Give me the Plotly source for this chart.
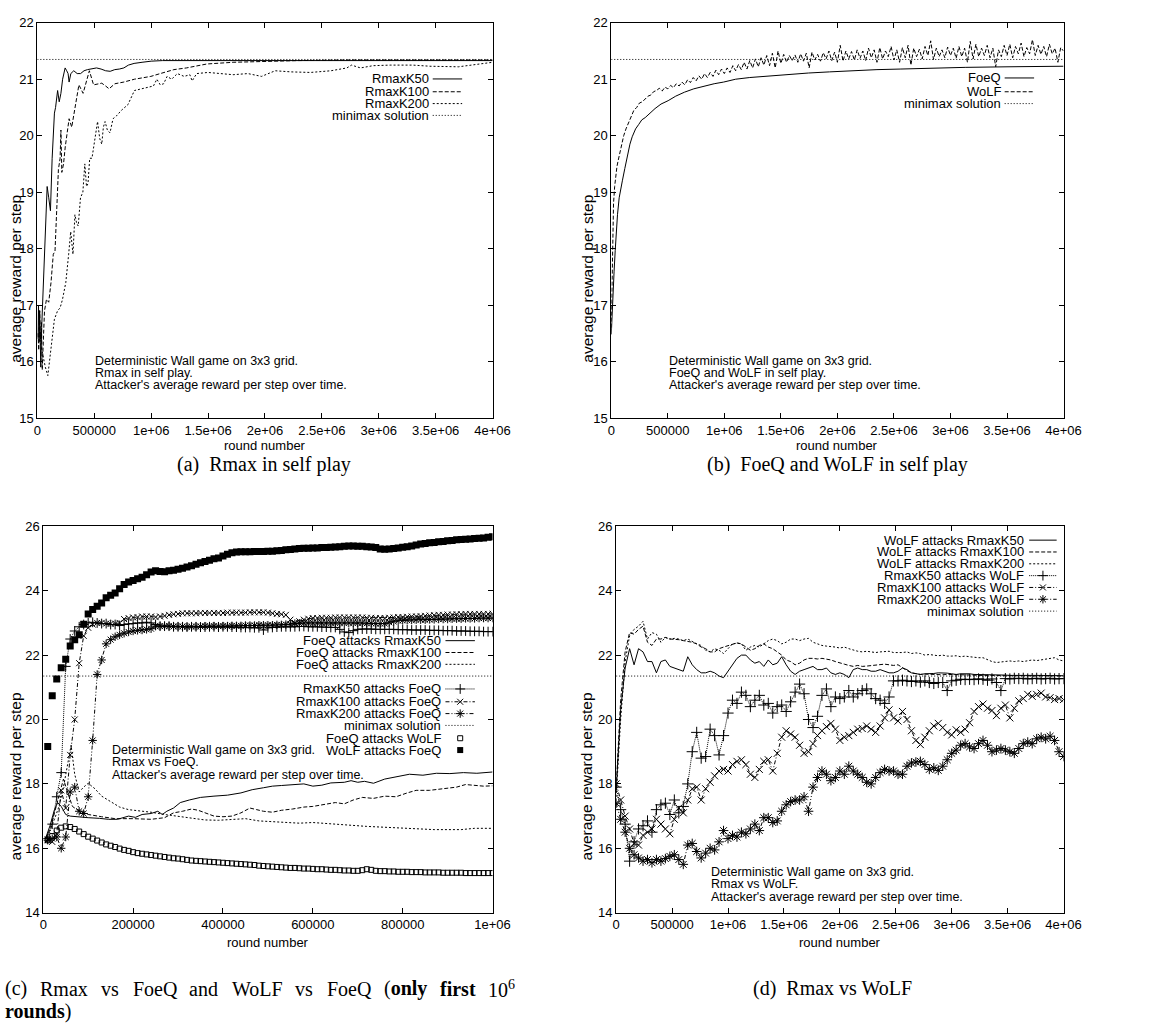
import plotly.graph_objects as go

W, H = 1161, 1034
SANS = "Liberation Sans, Arial, Helvetica, sans-serif"
SERIF = "Liberation Serif, Times New Roman, serif"

MINIMAX = 21.35

# ---------------- (a) Rmax in self play (x in thousands of rounds) ----------------
A_K50_X = [5, 10, 15, 20, 25, 30, 38, 45, 55, 65, 75, 86, 100, 115, 130, 150, 160, 178, 192, 207,
           222, 244, 258, 270, 279, 294, 320, 350, 380, 410, 440, 480, 520, 560, 600, 640, 680, 720, 760, 800,
           850, 920, 1000, 1100, 1250, 1500, 2000, 2500, 3000, 3500, 4000]
A_K50_Y = [16.4, 17.0, 16.35, 16.9, 16.4, 15.9, 16.6, 17.0, 17.6, 18.2, 18.7, 19.1, 18.9, 18.67, 19.6, 20.4, 20.5, 20.8, 20.6, 20.75,
           21.0, 21.2, 21.15, 21.1, 20.95, 21.1, 21.15, 21.1, 21.1, 21.15, 21.17, 21.18, 21.2, 21.18, 21.15, 21.14, 21.17, 21.18, 21.2, 21.25,
           21.28, 21.3, 21.32, 21.33, 21.33, 21.33, 21.34, 21.33, 21.34, 21.33, 21.33]

A_K100_X = [5, 12, 20, 28, 36, 43, 55, 63, 80, 100, 120, 140, 155, 170, 185, 200, 207, 215, 230, 245,
            262, 279, 302, 330, 365, 402, 430, 457, 494, 530, 566, 600, 630, 681, 760, 853, 997, 1080, 1200, 1310,
            1490, 1720, 2000, 2290, 2700, 3200, 3600, 4000]
A_K100_Y = [16.5, 16.2, 16.9, 16.4, 16.7, 15.85, 16.5, 16.9, 17.1, 17.05, 17.4, 17.9, 17.95, 18.6, 19.4, 19.6, 20.1, 19.35, 19.5, 19.8,
            20.1, 20.3, 20.15, 20.5, 20.9, 20.75, 20.95, 21.15, 20.9, 20.92, 20.93, 20.88, 20.83, 20.92, 20.95, 21.0, 21.05, 21.1, 21.17, 21.2,
            21.27, 21.3, 21.32, 21.33, 21.34, 21.34, 21.34, 21.34]

A_K200_X = [15, 30, 50, 70, 92, 106, 130, 150, 178, 200, 221, 250, 275, 293, 313, 330, 345, 359, 379, 400,
            417, 432, 445, 460, 480, 505, 529, 548, 566, 580, 595, 615, 638, 665, 695, 739, 796, 853, 900, 969,
            1020, 1050, 1080, 1110, 1140, 1180, 1230, 1290, 1340, 1360, 1400, 1500, 1600, 1720, 1850, 1970, 2090, 2230, 2400, 2580,
            2720, 2760, 2840, 2950, 3100, 3300, 3450, 3700, 3850, 4000]
A_K200_Y = [16.6, 16.3, 16.1, 15.9, 15.75, 16.0, 16.4, 16.75, 16.9, 16.95, 17.1, 17.4, 17.9, 18.3, 17.9, 18.6, 18.45, 18.4, 18.9, 19.0,
            19.5, 19.1, 19.15, 19.6, 19.6, 19.9, 20.25, 19.95, 19.85, 20.15, 20.25, 20.1, 20.05, 20.3, 20.35, 20.45, 20.55, 20.8, 20.82, 20.85,
            20.88, 21.0, 20.9, 20.92, 21.05, 21.0, 21.1, 21.05, 21.08, 20.97, 21.1, 21.12, 21.1, 21.08, 21.1, 21.05, 21.15, 21.13, 21.12, 21.15,
            21.2, 21.25, 21.2, 21.24, 21.25, 21.25, 21.23, 21.22, 21.26, 21.3]

# ---------------- (b) FoeQ and WoLF in self play ----------------
B_FOEQ_X = [0, 8, 17, 25, 35, 45, 55, 70, 85, 98, 120, 142, 165, 185, 215, 243, 270, 300, 340, 387,
            440, 503, 570, 647, 730, 821, 910, 994, 1100, 1225, 1340, 1457, 1600, 1745, 1930, 2120, 2350, 2555, 2850, 3130,
            3500, 4000]
B_FOEQ_Y = [16.48, 16.9, 17.2, 17.6, 17.97, 18.3, 18.6, 18.9, 19.1, 19.2, 19.42, 19.66, 19.85, 19.98, 20.12, 20.2, 20.28, 20.32, 20.4, 20.48,
            20.56, 20.62, 20.7, 20.77, 20.83, 20.88, 20.92, 20.95, 21.0, 21.03, 21.05, 21.07, 21.09, 21.11, 21.13, 21.15, 21.17, 21.18, 21.2, 21.21,
            21.22, 21.23]

B_WOLF_X = [0, 5, 10, 15, 20, 30, 40, 50, 60, 75, 90, 110, 130, 150, 175, 200, 225, 250, 275, 300, 325, 350, 375] + \
           list(range(400, 4001, 25))
B_WOLF_Y = [16.6, 17.1, 17.8, 18.4, 18.8, 19.1, 19.3, 19.45, 19.55, 19.7, 19.85, 20.0, 20.12, 20.22, 20.33, 20.45, 20.5, 20.58, 20.6, 20.65,
            20.7, 20.72, 20.78,
            20.80, 20.84, 20.79, 20.86, 20.83, 20.89, 20.85, 20.92, 20.88, 20.95,
            20.90, 20.99, 20.94, 21.03, 20.97, 21.06, 21.00, 21.10, 21.03, 21.12,
            21.05, 21.16, 21.08, 21.18, 21.10, 21.20, 21.12, 21.24, 21.15, 21.26,
            21.17, 21.30, 21.18, 21.33, 21.20, 21.36, 21.22, 21.38, 21.25, 21.42,
            21.24, 21.46, 21.20, 21.50, 21.28, 21.44, 21.30, 21.42, 21.33, 21.43,
            21.30, 21.45, 21.32, 21.46, 21.20, 21.48, 21.34, 21.44, 21.32, 21.47,
            21.36, 21.50, 21.33, 21.48, 21.30, 21.60, 21.32, 21.50, 21.36, 21.49,
            21.34, 21.52, 21.37, 21.50, 21.33, 21.55, 21.38, 21.52, 21.30, 21.56,
            21.36, 21.50, 21.40, 21.58, 21.34, 21.52, 21.30, 21.56, 21.38, 21.60,
            21.25, 21.55, 21.40, 21.53, 21.36, 21.58, 21.42, 21.68, 21.35, 21.55,
            21.40, 21.52, 21.38, 21.57, 21.42, 21.55, 21.37, 21.58, 21.40, 21.55,
            21.30, 21.67, 21.36, 21.62, 21.40, 21.55, 21.42, 21.60, 21.38, 21.55,
            21.22, 21.52, 21.40, 21.60, 21.42, 21.62, 21.38, 21.58, 21.45, 21.64,
            21.40, 21.56, 21.45, 21.70, 21.42, 21.60, 21.44, 21.58, 21.40, 21.62,
            21.45, 21.55, 21.30, 21.56, 21.50]

# ---------------- (c) Rmax vs FoeQ and WoLF vs FoeQ ----------------
C_FOEQ_K50_X = [5, 15, 25, 32, 40, 50, 60, 80, 100, 125, 145, 165, 190, 205, 220, 240, 255, 265, 275, 290,
                305, 325, 350, 380, 410, 440, 465, 490, 510, 530, 555, 580, 600, 620, 640, 670, 685, 700, 715, 735,
                760, 790, 815, 845, 875, 905, 935, 965, 1000]
C_FOEQ_K50_Y = [16.3, 16.7, 17.2, 17.42, 17.3, 17.05, 17.0, 16.97, 16.95, 16.93, 16.9, 16.9, 17.0, 16.96, 17.05, 17.08, 17.15, 17.05, 17.15, 17.25,
                17.42, 17.5, 17.58, 17.62, 17.65, 17.72, 17.82, 17.88, 17.93, 17.95, 17.98, 18.0, 17.93, 17.96, 18.03, 18.05, 18.1, 18.05, 18.08, 18.02,
                18.15, 18.22, 18.3, 18.27, 18.33, 18.32, 18.35, 18.33, 18.37]

C_FOEQ_K100_X = [5, 15, 25, 35, 45, 55, 65, 80, 100, 130, 160, 200, 240, 270, 290, 310, 330, 345, 360, 380,
                 400, 420, 440, 460, 475, 490, 510, 530, 555, 580, 600, 625, 650, 670, 690, 710, 735, 760, 785, 810,
                 830, 860, 890, 920, 940, 960, 980, 1000]
C_FOEQ_K100_Y = [16.3, 16.6, 17.1, 17.6, 18.15, 17.7, 17.3, 17.15, 17.05, 16.98, 16.92, 16.92, 16.9, 16.95, 17.1, 17.15, 17.22, 17.18, 17.1, 17.0,
                 16.98, 17.0, 17.1, 17.25, 17.2, 17.15, 17.12, 17.18, 17.22, 17.28, 17.3, 17.35, 17.42, 17.38, 17.5, 17.58, 17.55, 17.62, 17.6, 17.72,
                 17.8, 17.8, 17.85, 17.9, 17.98, 17.95, 17.93, 17.94]

C_FOEQ_K200_X = [5, 15, 25, 35, 45, 55, 62, 70, 80, 90, 100, 115, 130, 150, 170, 190, 210, 240, 270, 300,
                 330, 360, 390, 420, 450, 480, 510, 540, 570, 600, 640, 680, 720, 760, 800, 840, 870, 900, 930, 960,
                 1000]
C_FOEQ_K200_Y = [16.3, 16.55, 16.9, 17.3, 17.9, 18.6, 19.2, 18.3, 17.75, 17.9, 18.02, 17.85, 17.62, 17.45, 17.28, 17.2, 17.17, 17.12, 17.05, 17.0,
                 16.95, 16.88, 16.87, 16.9, 16.92, 16.85, 16.82, 16.8, 16.78, 16.8, 16.75, 16.72, 16.68, 16.66, 16.63, 16.6, 16.58, 16.57, 16.58, 16.62,
                 16.62]

# point series logged every 10000 rounds
C_ROUNDS = list(range(10000, 1000001, 10000))
C_K50_ATT = [16.3, 16.75, 17.6, 18.35, 21.65, 22.5, 22.75, 22.88, 22.95, 23.0,
             23.02, 23.0, 22.98, 22.98, 22.95, 22.95, 22.92, 22.95, 22.97, 22.98,
             23.0, 23.0, 23.02, 23.0, 22.95, 22.9, 22.9, 22.9, 22.88, 22.88,
             22.88, 22.87, 22.88, 22.88, 22.87, 22.87, 22.88, 22.88, 22.87, 22.88,
             22.88, 22.87, 22.87, 22.86, 22.86, 22.86, 22.85, 22.85, 22.78, 22.85,
             22.86, 22.87, 22.88, 22.88, 22.88, 22.88, 22.89, 22.89, 22.88, 22.88,
             22.88, 22.87, 22.87, 22.86, 22.86, 22.8, 22.72, 22.7, 22.76, 22.8,
             22.81, 22.81, 22.81, 22.8, 22.8, 22.8, 22.8, 22.8, 22.79, 22.79,
             22.79, 22.78, 22.78, 22.78, 22.78, 22.77, 22.77, 22.77, 22.76, 22.76,
             22.76, 22.75, 22.75, 22.75, 22.74, 22.74, 22.74, 22.73, 22.73, 22.73]
C_K100_ATT = [16.28, 16.2, 16.45, 17.8, 17.25, 18.9, 20.0, 21.75, 22.6, 22.85,
              22.95, 23.0, 23.0, 22.98, 22.97, 22.98, 23.0, 23.12, 23.15, 23.17,
              23.18, 23.2, 23.2, 23.2, 23.18, 23.2, 23.22, 23.25, 23.27, 23.28,
              23.3, 23.3, 23.3, 23.3, 23.31, 23.31, 23.31, 23.31, 23.31, 23.31,
              23.32, 23.32, 23.32, 23.32, 23.32, 23.33, 23.33, 23.33, 23.33, 23.32,
              23.3, 23.28, 23.27, 23.25, 23.1, 23.0, 23.05, 23.1, 23.13, 23.15,
              23.15, 23.16, 23.16, 23.16, 23.17, 23.17, 23.17, 23.17, 23.17, 23.17,
              23.17, 23.16, 23.16, 23.15, 23.15, 23.15, 23.16, 23.17, 23.18, 23.18,
              23.19, 23.2, 23.2, 23.21, 23.22, 23.23, 23.24, 23.25, 23.25, 23.26,
              23.26, 23.27, 23.27, 23.28, 23.28, 23.28, 23.28, 23.28, 23.28, 23.28]
C_K200_ATT = [16.25, 16.3, 16.35, 16.0, 16.35, 17.75, 17.9, 17.15, 17.08, 17.6,
              19.35, 21.4, 21.85, 22.35, 22.48, 22.57, 22.63, 22.68, 22.72, 22.75,
              22.77, 22.78, 22.8, 22.82, 22.9, 22.9, 22.9, 22.9, 22.89, 22.89,
              22.89, 22.88, 22.88, 22.89, 22.89, 22.9, 22.9, 22.9, 22.9, 22.9,
              22.9, 22.91, 22.91, 22.91, 22.92, 22.92, 22.92, 22.93, 22.93, 22.93,
              22.93, 22.94, 22.94, 22.95, 22.96, 22.98, 22.99, 23.0, 23.0, 23.0,
              23.0, 23.0, 23.0, 23.0, 23.0, 23.0, 23.0, 23.0, 23.0, 23.0,
              23.0, 22.99, 22.99, 22.98, 22.98, 22.98, 23.02, 23.05, 23.07, 23.08,
              23.09, 23.09, 23.1, 23.1, 23.1, 23.11, 23.11, 23.12, 23.12, 23.12,
              23.13, 23.13, 23.13, 23.14, 23.14, 23.14, 23.15, 23.15, 23.15, 23.15]
C_FOEQ_ATT_WOLF = [16.25, 16.38, 16.55, 16.64, 16.68, 16.66, 16.6, 16.52, 16.44, 16.36,
                   16.3, 16.24, 16.18, 16.12, 16.08, 16.04, 15.99, 15.95, 15.92, 15.88,
                   15.85, 15.83, 15.81, 15.79, 15.77, 15.75, 15.73, 15.71, 15.69, 15.68,
                   15.66, 15.64, 15.62, 15.61, 15.6, 15.59, 15.58, 15.57, 15.56, 15.55,
                   15.54, 15.53, 15.52, 15.51, 15.5, 15.49, 15.48, 15.46, 15.45, 15.44,
                   15.43, 15.42, 15.41, 15.4, 15.39, 15.39, 15.38, 15.37, 15.37, 15.36,
                   15.35, 15.35, 15.34, 15.33, 15.33, 15.32, 15.31, 15.31, 15.3, 15.3,
                   15.32, 15.35, 15.33, 15.3, 15.29, 15.29, 15.28, 15.28, 15.27, 15.27,
                   15.27, 15.26, 15.26, 15.26, 15.25, 15.25, 15.25, 15.25, 15.24, 15.24,
                   15.24, 15.24, 15.24, 15.23, 15.23, 15.23, 15.23, 15.23, 15.23, 15.23]
C_WOLF_ATT_FOEQ = [19.16, 20.74, 21.26, 21.61, 21.87, 22.28, 22.48, 22.63, 22.96, 23.28,
                   23.42, 23.52, 23.62, 23.78, 23.86, 23.93, 24.06, 24.19, 24.27, 24.32,
                   24.37, 24.42, 24.5, 24.58, 24.62, 24.6, 24.59, 24.62, 24.64, 24.67,
                   24.7, 24.74, 24.78, 24.82, 24.87, 24.91, 24.95, 24.99, 25.02, 25.08,
                   25.13, 25.18, 25.2, 25.21, 25.21, 25.21, 25.22, 25.22, 25.22, 25.23,
                   25.23, 25.24, 25.25, 25.27, 25.28, 25.3, 25.31, 25.32, 25.32, 25.33,
                   25.33, 25.34, 25.34, 25.35, 25.36, 25.37, 25.38, 25.39, 25.39, 25.38,
                   25.38, 25.37, 25.36, 25.34, 25.3, 25.29, 25.3, 25.31, 25.33, 25.35,
                   25.37, 25.39, 25.42, 25.45, 25.47, 25.49, 25.5, 25.52, 25.53, 25.55,
                   25.56, 25.58, 25.59, 25.6, 25.61, 25.62, 25.63, 25.64, 25.66, 25.68]

# ---------------- (d) Rmax vs WoLF, logged every 40000 rounds ----------------
D_ROUNDS = list(range(0, 4000001, 40000))
D_WOLF_K50 = [17.8, 20.3, 21.6, 22.2, 21.7, 22.2, 22.1, 21.8, 21.8, 21.45,
              21.8, 21.85, 21.65, 21.6, 21.55, 21.5, 21.95, 21.7, 21.55, 21.45,
              21.45, 21.5, 21.45, 21.35, 21.3, 21.5, 21.7, 21.9, 22.0, 22.0,
              21.85, 21.75, 21.8, 21.65, 21.85, 21.7, 21.75, 21.95, 21.7, 21.5,
              21.4, 21.5, 21.55, 21.6, 21.65, 21.55, 21.55, 21.6, 21.45, 21.4,
              21.45, 21.4, 21.3, 21.55, 21.6, 21.55, 21.55, 21.5, 21.5, 21.55,
              21.5, 21.45, 21.45, 21.5, 21.6, 21.55, 21.45, 21.42, 21.4, 21.42,
              21.42, 21.43, 21.45, 21.45, 21.44, 21.42, 21.4, 21.42, 21.43, 21.42,
              21.4, 21.4, 21.39, 21.39, 21.38, 21.39, 21.38, 21.38, 21.37, 21.38,
              21.37, 21.37, 21.38, 21.37, 21.37, 21.37, 21.36, 21.37, 21.37, 21.36, 21.36]
D_WOLF_K100 = [17.9, 20.6, 22.1, 22.7, 22.65, 22.8, 22.9, 22.4, 22.3, 22.5,
               22.5, 22.55, 22.5, 22.5, 22.48, 22.45, 22.43, 22.4, 22.35, 22.25,
               22.2, 22.1, 22.1, 22.2, 22.25, 22.3, 22.35, 22.38, 22.35, 22.25,
               22.15, 22.2, 22.3, 22.35, 22.25, 22.2, 22.1, 22.0, 21.85, 21.8,
               21.7, 21.75, 21.85, 21.9, 21.9, 21.88, 21.9, 21.88, 21.85, 21.8,
               21.75, 21.72, 21.68, 21.65, 21.68, 21.65, 21.66, 21.68, 21.68, 21.7,
               21.72, 21.7, 21.68, 21.7, 21.6, 21.52, 21.45, 21.42, 21.4, 21.41,
               21.4, 21.41, 21.4, 21.39, 21.4, 21.4, 21.39, 21.38, 21.39, 21.38,
               21.38, 21.37, 21.38, 21.37, 21.37, 21.36, 21.37, 21.36, 21.36, 21.37,
               21.36, 21.36, 21.35, 21.36, 21.35, 21.36, 21.35, 21.35, 21.36, 21.35, 21.35]
D_WOLF_K200 = [17.6, 20.0, 21.8, 22.6, 22.8, 22.9, 23.05, 22.5, 22.7, 22.65,
               22.4, 22.55, 22.5, 22.52, 22.5, 22.45, 22.5, 22.42, 22.35, 22.3,
               22.15, 22.1, 22.2, 22.15, 22.05, 22.2, 22.35, 22.37, 22.35, 22.15,
               22.25, 22.3, 22.25, 22.35, 22.45, 22.5, 22.45, 22.35, 22.4, 22.5,
               22.5, 22.45, 22.5, 22.52, 22.4, 22.35, 22.3, 22.28, 22.27, 22.25,
               22.22, 22.25, 22.2, 22.15, 22.12, 22.1, 22.12, 22.1, 22.08, 22.1,
               22.1, 22.12, 22.08, 22.07, 22.08, 22.1, 22.05, 22.07, 22.05, 22.0,
               22.02, 22.0, 21.98, 22.0, 21.97, 21.97, 21.98, 21.95, 21.97, 21.95,
               21.93, 21.92, 21.92, 21.85, 21.8, 21.77, 21.78, 21.8, 21.82, 21.8,
               21.82, 21.8, 21.82, 21.85, 21.83, 21.85, 21.87, 21.88, 21.92, 21.85, 21.82]
D_K50_ATT = [17.9, 17.2, 16.75, 15.6, 16.2, 16.6, 16.7, 16.85, 16.5, 17.2,
             17.35, 17.4, 17.05, 17.5, 17.1, 17.3, 18.0, 19.0, 19.6, 18.8,
             18.85, 19.7, 19.5, 18.9, 19.5, 20.2, 20.6, 20.5, 20.85, 20.75,
             20.4, 20.6, 20.75, 20.45, 20.5, 20.2, 20.4, 20.45, 20.25, 20.55,
             20.85, 21.1, 20.8, 20.0, 19.75, 20.1, 20.75, 20.95, 20.4, 20.7,
             20.65, 20.7, 20.9, 20.7, 20.8, 20.9, 20.95, 20.8, 20.65, 20.6,
             20.5, 20.7, 21.2, 21.2, 21.22, 21.2, 21.18, 21.2, 21.16, 21.2,
             21.15, 21.12, 21.15, 21.15, 20.9, 21.2, 21.22, 21.25, 21.24, 21.25,
             21.24, 21.26, 21.25, 21.22, 21.26, 21.15, 20.9, 21.27, 21.26, 21.28,
             21.27, 21.28, 21.26, 21.27, 21.28, 21.26, 21.27, 21.28, 21.26, 21.27, 21.27]
D_K100_ATT = [18.0, 17.5, 17.0, 16.6, 16.15, 16.1, 16.4, 16.5, 16.6, 16.9,
              16.75, 16.6, 16.45, 16.9, 17.25, 17.1, 17.5, 17.85, 17.9, 17.5,
              17.85, 18.05, 18.25, 18.4, 18.45, 18.4, 18.6, 18.7, 18.75, 18.6,
              18.3, 18.2, 18.45, 18.7, 18.75, 18.4, 18.95, 19.45, 19.65, 19.55,
              19.45, 19.2, 18.95, 19.0, 19.25, 19.5, 19.65, 19.78, 19.88, 19.7,
              19.35, 19.45, 19.5, 19.6, 19.7, 19.72, 19.8, 19.7, 19.6, 19.8,
              20.05, 20.3, 20.05, 19.95, 20.25, 20.0, 19.65, 19.35, 19.22, 19.45,
              19.65, 19.8, 19.88, 19.75, 19.6, 19.52, 19.68, 19.6, 19.7, 19.9,
              20.25, 20.4, 20.48, 20.35, 20.28, 20.12, 20.35, 20.45, 20.05, 20.35,
              20.58, 20.65, 20.78, 20.72, 20.78, 20.82, 20.7, 20.68, 20.62, 20.65, 20.62]
D_K200_ATT = [17.4, 16.9, 16.5, 16.0, 15.8, 15.7, 15.6, 15.65, 15.55, 15.65,
              15.6, 15.68, 15.75, 15.8, 15.65, 15.5, 16.1, 16.15, 15.9, 15.7,
              15.85, 16.0, 15.95, 16.2, 16.55, 16.3, 16.4, 16.35, 16.5, 16.45,
              16.6, 16.75, 16.55, 16.95, 16.95, 16.8, 16.85, 17.15, 17.35, 17.45,
              17.5, 17.5, 17.6, 17.15, 17.9, 18.2, 18.4, 18.3, 18.1, 18.2,
              18.4, 18.3, 18.55, 18.4, 18.3, 18.2, 18.05, 18.0, 18.2, 18.35,
              18.45, 18.4, 18.4, 18.3, 18.3, 18.55, 18.65, 18.68, 18.7, 18.6,
              18.45, 18.5, 18.42, 18.55, 18.75, 18.95, 19.05, 19.2, 19.25, 19.15,
              19.1, 19.25, 19.35, 19.2, 19.0, 19.05, 19.1, 19.05, 19.0, 18.95,
              19.1, 19.25, 19.3, 19.25, 19.4, 19.45, 19.4, 19.48, 19.35, 19.0, 18.85]

# ---------------- ticks ----------------
X4M_TICKS = [0, 500000, 1000000, 1500000, 2000000, 2500000, 3000000, 3500000, 4000000]
X4M_LABELS = ["0", "500000", "1e+06", "1.5e+06", "2e+06", "2.5e+06", "3e+06", "3.5e+06", "4e+06"]
X1M_TICKS = [0, 200000, 400000, 600000, 800000, 1000000]
X1M_LABELS = ["0", "200000", "400000", "600000", "800000", "1e+06"]
Y_TOP_TICKS = [15, 16, 17, 18, 19, 20, 21, 22]
Y_BOT_TICKS = [14, 16, 18, 20, 22, 24, 26]

# ---------------- layout geometry (pixels) ----------------
FRAMES = {"a": (34, 16, 498, 417), "b": (619, 16, 1080, 417),
          "c": (40, 527, 498, 919), "d": (624, 527, 1080, 919)}
AX = {"a": ("x", "y"), "b": ("x2", "y2"), "c": ("x3", "y3"), "d": ("x4", "y4")}
DASH = {"solid": "solid", "dashed": "4px,2px", "dotted": "2px,2px", "fine": "1px,2px",
        "plus": "1px,1px", "dashdot": "4px,2px,1px,2px", "dashdotdot": "4px,2px,1px,2px,1px,2px"}

fig = go.Figure()


def curve(panel, xs, ys, dash, scale=1000):
    xa, ya = AX[panel]
    fig.add_trace(go.Scatter(x=[v * scale for v in xs], y=ys, mode="lines",
                             line=dict(color="black", width=1, dash=DASH[dash]),
                             xaxis=xa, yaxis=ya, hoverinfo="skip"))


def points(panel, xs, ys, symbol, size, dash=None, mwidth=1):
    xa, ya = AX[panel]
    fig.add_trace(go.Scatter(x=xs, y=ys, mode="lines+markers" if dash else "markers",
                             line=dict(color="black", width=1, dash=DASH[dash] if dash else "solid"),
                             marker=dict(symbol=symbol, size=size, color="black",
                                         line=dict(color="black", width=mwidth)),
                             xaxis=xa, yaxis=ya, hoverinfo="skip"))


def minimax(panel, xmax):
    curve(panel, [0, xmax], [MINIMAX, MINIMAX], "fine", scale=1)


# (a)
curve("a", A_K50_X, A_K50_Y, "solid")
curve("a", A_K100_X, A_K100_Y, "dashed")
curve("a", A_K200_X, A_K200_Y, "dotted")
minimax("a", 4000000)

# (b)
curve("b", B_FOEQ_X, B_FOEQ_Y, "solid")
curve("b", B_WOLF_X, B_WOLF_Y, "dashed")
minimax("b", 4000000)

# (c)
curve("c", C_FOEQ_K50_X, C_FOEQ_K50_Y, "solid")
curve("c", C_FOEQ_K100_X, C_FOEQ_K100_Y, "dashed")
curve("c", C_FOEQ_K200_X, C_FOEQ_K200_Y, "dotted")
points("c", C_ROUNDS, C_K50_ATT, "cross-thin-open", 7, "plus")
points("c", C_ROUNDS, C_K100_ATT, "x-thin-open", 6, "dashdot")
points("c", C_ROUNDS, C_K200_ATT, "asterisk-open", 7, "dashdotdot")
minimax("c", 1000000)
points("c", C_ROUNDS, C_FOEQ_ATT_WOLF, "square-open", 5)
points("c", C_ROUNDS, C_WOLF_ATT_FOEQ, "square", 7, mwidth=0)

# (d)
curve("d", D_ROUNDS, D_WOLF_K50, "solid", scale=1)
curve("d", D_ROUNDS, D_WOLF_K100, "dashed", scale=1)
curve("d", D_ROUNDS, D_WOLF_K200, "dotted", scale=1)
points("d", D_ROUNDS, D_K50_ATT, "cross-thin-open", 8, "plus")
points("d", D_ROUNDS, D_K100_ATT, "x-thin-open", 7, "dashdot")
points("d", D_ROUNDS, D_K200_ATT, "asterisk-open", 8, "dashdotdot")
minimax("d", 4000000)


# ---------------- keys (drawn on a full-page pixel overlay) ----------------
def text(px, py, s, anchor="left", size=13, family=SANS, angle=0):
    fig.add_annotation(x=px / W, y=1 - py / H, xref="paper", yref="paper", text=s,
                       showarrow=False, xanchor=anchor, yanchor="middle", textangle=angle,
                       borderpad=0, font=dict(family=family, size=size, color="black"))


def key(tx, x0, x1, rows):
    for py, label, dash, symbol, size in rows:
        text(tx, py, label, anchor="right")
        if dash:
            fig.add_trace(go.Scatter(x=[x0, x1], y=[py, py], mode="lines", xaxis="x5", yaxis="y5",
                                     line=dict(color="black", width=1, dash=DASH[dash]), hoverinfo="skip"))
        if symbol:
            fig.add_trace(go.Scatter(x=[(x0 + x1) / 2], y=[py], mode="markers", xaxis="x5", yaxis="y5",
                                     marker=dict(symbol=symbol, size=size, color="black",
                                                 line=dict(color="black", width=0 if symbol == "square" else 1)),
                                     hoverinfo="skip"))


key(434, 437, 467, [(73, "RmaxK50", "solid", None, 0), (86, "RmaxK100", "dashed", None, 0),
                    (98, "RmaxK200", "dotted", None, 0), (110, "minimax solution", "fine", None, 0)])
key(1017, 1020, 1050, [(72, "FoeQ", "solid", None, 0), (86, "WoLF", "dashed", None, 0),
                       (98, "minimax solution", "fine", None, 0)])
key(446, 450, 480, [(643, "FoeQ attacks RmaxK50", "solid", None, 0),
                    (655, "FoeQ attacks RmaxK100", "dashed", None, 0),
                    (667, "FoeQ attacks RmaxK200", "dotted", None, 0),
                    (692, "RmaxK50 attacks FoeQ", "plus", "cross-thin-open", 7),
                    (705, "RmaxK100 attacks FoeQ", "dashdot", "x-thin-open", 6),
                    (717, "RmaxK200 attacks FoeQ", "dashdotdot", "asterisk-open", 7),
                    (729, "minimax solution", "fine", None, 0),
                    (742, "FoeQ attacks WoLF", None, "square-open", 5),
                    (754, "WoLF attacks FoeQ", None, "square", 6)])
key(1041, 1045, 1073, [(541, "WoLF attacks RmaxK50", "solid", None, 0),
                       (553, "WoLF attacks RmaxK100", "dashed", None, 0),
                       (565, "WoLF attacks RmaxK200", "dotted", None, 0),
                       (577, "RmaxK50 attacks WoLF", "plus", "cross-thin-open", 7),
                       (589, "RmaxK100 attacks WoLF", "dashdot", "x-thin-open", 6),
                       (601, "RmaxK200 attacks WoLF", "dashdotdot", "asterisk-open", 7),
                       (613, "minimax solution", "fine", None, 0)])

# in-plot descriptions
for (x0, y0, second) in [(92, 359, "Rmax in self play."), (677, 359, "FoeQ and WoLF in self play."),
                         (109, 754, "Rmax vs FoeQ."), (720, 878, "Rmax vs WoLF.")]:
    text(x0, y0, "Deterministic Wall game on 3x3 grid.", size=12.5)
    text(x0, y0 + 12, second, size=12.5)
    text(x0, y0 + 25, "Attacker's average reward per step over time.", size=12.5)

# axis titles
for k, (l, t, r, b) in FRAMES.items():
    text((l + r) / 2, b + (28 if k in ("a", "b") else 30), "round number", anchor="center")
text(12, 276, "average reward per step", anchor="center", size=15.5, angle=-90)
text(595, 276, "average reward per step", anchor="center", size=15.5, angle=-90)
text(12, 781, "average reward per step", anchor="center", size=15.5, angle=-90)
text(594, 781, "average reward per step", anchor="center", size=15.5, angle=-90)

# sub-figure captions
text(265, 464, "(a)  Rmax in self play", anchor="center", size=20, family=SERIF)
text(850, 464, "(b)  FoeQ and WoLF in self play", anchor="center", size=20, family=SERIF)
text(845, 996, "(d)  Rmax vs WoLF", anchor="center", size=20, family=SERIF)
for word, px in [("(c)", 0), ("Rmax", 36), ("vs", 98), ("FoeQ", 130), ("and", 188), ("WoLF", 231),
                 ("vs", 296), ("FoeQ", 328), ("(<b>only</b>", 386), ("<b>first</b>", 443),
                 ("10<sup>6</sup>", 492)]:
    text(px, 996, word, size=20, family=SERIF)
text(0, 1019, "<b>rounds</b>)", size=20, family=SERIF)

# ---------------- axes ----------------
common = dict(showline=True, linecolor="black", linewidth=1, mirror="allticks", ticks="inside",
              ticklen=5, tickwidth=1, tickcolor="black", showgrid=False, zeroline=False,
              tickfont=dict(family=SANS, size=13, color="black"), fixedrange=True)
layout_axes = {}
for k, (l, t, r, b) in FRAMES.items():
    xa, ya = AX[k]
    xname = "xaxis" + xa[1:]
    yname = "yaxis" + ya[1:]
    wide = k != "c"
    layout_axes[xname] = dict(domain=[l / W, r / W], anchor=ya,
                              range=[0, 4000000 if wide else 1000000],
                              tickvals=X4M_TICKS if wide else X1M_TICKS,
                              ticktext=X4M_LABELS if wide else X1M_LABELS, **common)
    top = k in ("a", "b")
    layout_axes[yname] = dict(domain=[1 - b / H, 1 - t / H], anchor=xa,
                              range=[15, 22] if top else [14, 26],
                              tickvals=Y_TOP_TICKS if top else Y_BOT_TICKS, **common)
layout_axes["xaxis5"] = dict(domain=[0, 1], range=[0, W], visible=False, anchor="y5", fixedrange=True)
layout_axes["yaxis5"] = dict(domain=[0, 1], range=[H, 0], visible=False, anchor="x5", fixedrange=True)

fig.update_layout(width=W, height=H, margin=dict(l=0, r=0, t=0, b=0), autosize=False,
                  paper_bgcolor="white", plot_bgcolor="rgba(0,0,0,0)", showlegend=False, **layout_axes)

fig.write_html("out.html")
